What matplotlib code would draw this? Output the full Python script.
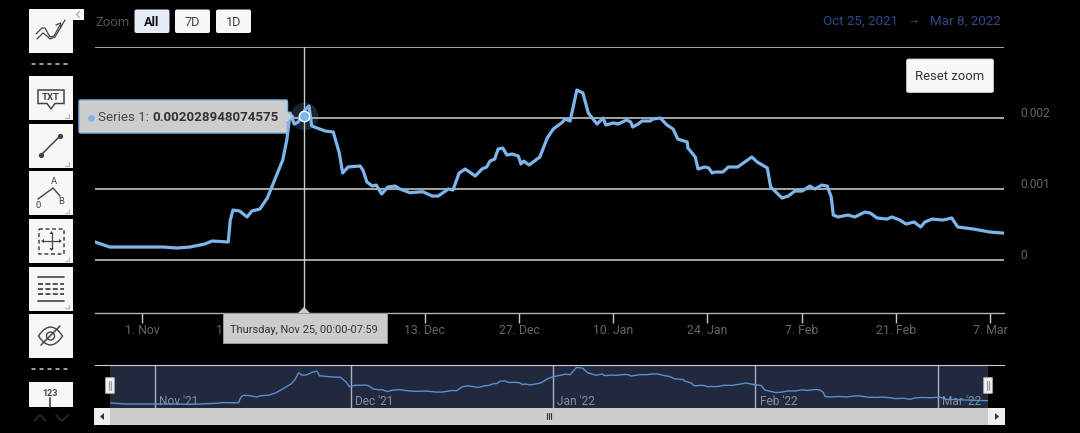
import matplotlib
matplotlib.use('Agg')
import matplotlib.pyplot as plt
import matplotlib.dates as mdates
import matplotlib.transforms as mtrans
from matplotlib.path import Path
from matplotlib.patches import Rectangle, FancyBboxPatch, Polygon, Circle, PathPatch
import pandas as pd

plt.rcParams['font.family'] = ['Roboto', 'DejaVu Sans']

START = pd.Timestamp('2021-10-25')

days = [0, 2.2, 10.1, 12.2, 14.1, 16.3, 17.4, 19.8, 20.1, 20.5, 21.5, 22.6, 23.3, 24.5, 25.6, 26.7, 27.9, 28.5,
        29.0, 29.6, 30.2, 31.2, 31.8, 32.2, 34.2, 35.4, 36.3, 36.8, 37.6, 39.4, 39.8, 40.4, 41.2, 41.8, 42.6, 43.5,
        44.6, 45.3, 46.8, 48.7, 50.1, 51.0, 52.5, 53.2, 54.1, 55.0, 56.5, 57.5, 58.2, 58.7, 59.4, 59.9, 60.6, 61.2,
        62.0, 62.9, 63.3, 63.7, 64.5, 66.1, 67.2, 68.1, 69.5, 69.8, 70.6, 71.6, 72.5, 73.3, 74.6, 75.5, 75.9, 77.0,
        77.7, 79.0, 79.6, 79.9, 80.7, 81.3, 82.5, 82.9, 84.0, 85.0, 85.9, 86.6, 88.0, 88.1, 89.2, 89.6, 90.6, 91.2,
        91.7, 92.1, 93.3, 94.1, 95.5, 97.6, 98.4, 99.9, 100.4, 102.1, 103.0, 104.0, 105.1, 106.2, 107.0, 108.0, 108.8,
        109.4, 109.7, 110.4, 111.9, 112.9, 114.4, 115.2, 116.2, 117.7, 118.4, 119.6, 120.5, 121.7, 122.7, 123.3, 124.4,
        126.0, 127.3, 128.2, 130.5, 133.0, 134.9]
values = [.254, .183, .183, .169, .183, .225, .268, .254, .563, .704, .690, .606, .690, .718, .873, 1.127, 1.408, 1.690,
          2.070, 1.915, 1.944, 2.113, 2.169, 1.887, 1.817, 1.803, 1.507, 1.225, 1.310, 1.324, 1.268, 1.099, 1.042, 1.056, .930, 1.028,
          1.042, 1.000, .948, .962, .901, .901, 1.000, .986, 1.225, 1.282, 1.183, 1.282, 1.310, 1.394, 1.423, 1.563, 1.577, 1.479,
          1.493, 1.465, 1.352, 1.394, 1.338, 1.451, 1.718, 1.845, 1.944, 1.986, 1.958, 2.394, 2.352, 2.070, 1.915, 2.000, 1.901, 1.930,
          1.915, 1.972, 1.944, 1.873, 1.915, 1.958, 1.958, 1.986, 2.000, 1.901, 1.845, 1.704, 1.662, 1.577, 1.451, 1.282, 1.310, 1.296,
          1.225, 1.239, 1.239, 1.310, 1.310, 1.451, 1.380, 1.296, 1.028, .873, .901, .972, .972, 1.042, 1.000, 1.056, 1.042,
          .887, .634, .606, .634, .606, .676, .662, .592, .577, .606, .563, .507, .535, .465, .535, .577,
          .563, .592, .465, .437, .394, .380]

tick_dates = ['2021-11-01', '2021-11-15', '2021-11-29', '2021-12-13', '2021-12-27', '2022-01-10',
              '2022-01-24', '2022-02-07', '2022-02-21', '2022-03-07']
tick_labels = ['1. Nov', '15. Nov', '29. Nov', '13. Dec', '27. Dec', '10. Jan', '24. Jan', '7. Feb', '21. Feb', '7. Mar']
y_ticks = [0, 0.001, 0.002, 0.003]
y_labels = ['0', '0.001', '0.002', '']
month_dates = ['2021-11-01', '2021-12-01', '2022-01-01', '2022-02-01', '2022-03-01']
month_labels = ["Nov '21", "Dec '21", "Jan '22", "Feb '22", "Mar '22"]
hover_date = '2021-11-25'
hover_value = 0.002028948074575

W, H = 1080, 433
BLUE = '#7cb5ec'
GREY = '#666666'
ICON = '#444444'

dates = START + pd.to_timedelta(days, unit='D')
series = [v / 1000 for v in values]


def px_axes(fig, left, top, right, bottom, **kw):
  return fig.add_axes([left / W, 1 - bottom / H, (right - left) / W, (bottom - top) / H], **kw)


fig = plt.figure(figsize=(W / 100, H / 100), dpi=100, facecolor='black')

# main chart
ax = px_axes(fig, 95, 47, 1004, 313, facecolor='black')
ax.plot(dates, series, color=BLUE, lw=2.3, solid_joinstyle='round', zorder=3)
ax.set_xlim(START, START + pd.Timedelta(days=135.07))
ax.set_ylim(-0.000746, 0.003)
for s in ['top', 'left', 'right']:
  ax.spines[s].set_visible(False)
ax.spines['bottom'].set_color('#b0b0b8')
ax.spines['bottom'].set_linewidth(1)
ax.set_yticks(y_ticks, y_labels, fontsize=8.6, color=GREY, va='bottom')
ax.yaxis.tick_right()
ax.tick_params(axis='y', length=0, pad=11.5)
drop = mtrans.ScaledTranslation(0, -2 / 100, fig.dpi_scale_trans)
for lab in ax.get_yticklabels():
  lab.set_transform(lab.get_transform() + drop)
ax.grid(axis='y', color='#d2d2d2', lw=1.1)
ax.set_axisbelow(True)
ax.set_xticks(pd.to_datetime(tick_dates), tick_labels, fontsize=8.8, color=GREY)
ax.tick_params(axis='x', length=7, width=1, color='#c8c8d0', pad=1)

hover = pd.Timestamp(hover_date)
ax.axvline(hover, color='#cccccc', lw=1, zorder=2)
ax.plot([hover], [hover_value], 'o', ms=20, color=BLUE, alpha=0.2, mew=0, zorder=2.5)
ax.plot([hover], [hover_value], 'o', ms=7.5, color=BLUE, mec='white', mew=1, zorder=5)

# navigator
nav = px_axes(fig, 95, 365, 1004, 408, facecolor='black')
nav.set_xlim(mdates.date2num(START) - 2.2, mdates.date2num(START) + 137.1)
nav.set_ylim(-0.00006, 0.00254)
span = nav.axvspan(mdates.date2num(START) + 0.1, mdates.date2num(START) + 134.6, color='#20293d', lw=0, zorder=1)
nav_line, = nav.plot(dates, series, color='#5b8fd0', lw=1, zorder=3)
nav_line.set_clip_path(span)
nav.set_xticks([])
nav.set_yticks([])
for s in ['left', 'right', 'bottom']:
  nav.spines[s].set_visible(False)
nav.spines['top'].set_color('#d0d0d0')
for d, lab in zip(month_dates, month_labels):
  nav.axvline(pd.Timestamp(d), color='#aab0bc', lw=1, zorder=2)
  nav.annotate(lab, (pd.Timestamp(d), 0), xycoords=('data', 'axes fraction'), xytext=(3, 2),
               textcoords='offset points', fontsize=8.6, color='#8a8f99', zorder=2)

# page furniture, drawn in pixel coordinates on a transparent overlay
ov = fig.add_axes([0, 0, 1, 1], facecolor='none', zorder=10)
ov.set_xlim(0, W)
ov.set_ylim(H, 0)
ov.axis('off')


def box(x0, y0, x1, y1, fc, ec='none', lw=0, r=0, z=2):
  if r:
    p = FancyBboxPatch((x0 + r, y0 + r), x1 - x0 - 2 * r, y1 - y0 - 2 * r, boxstyle=f'round,pad={r}', fc=fc, ec=ec, lw=lw, zorder=z)
  else:
    p = Rectangle((x0, y0), x1 - x0, y1 - y0, fc=fc, ec=ec, lw=lw, zorder=z)
  ov.add_patch(p)


def line(xs, ys, color=ICON, lw=1.2, z=3, **kw):
  ov.plot(xs, ys, color=color, lw=lw, zorder=z, solid_capstyle='round', **kw)


# zoom buttons and date range
ov.text(95, 22, 'Zoom', fontsize=9.4, color='#555555', va='center')
for x0, x1, lab, fc, weight, col in [(134.5, 169.5, 'All', '#e6ebf5', 'bold', '#111111'),
                                     (175, 210, '7D', '#f7f7f7', 'normal', '#444444'),
                                     (216, 251, '1D', '#f7f7f7', 'normal', '#444444')]:
  box(x0, 9.5, x1, 33, fc, r=2)
  ov.text((x0 + x1) / 2, 22, lab, fontsize=9.2, color=col, weight=weight, ha='center', va='center', zorder=3)
ov.text(823, 21.5, 'Oct 25, 2021', fontsize=9.6, color='#2f4a8c', va='center')
ov.text(914, 22.5, '→', fontsize=7, color='#444444', ha='center', va='center', family=['DejaVu Sans'])
ov.text(930, 21.5, 'Mar 8, 2022', fontsize=9.6, color='#2f4a8c', va='center')
box(906.5, 59, 993.5, 92.5, '#f7f7f7', ec='#cccccc', lw=0.6, r=2)
ov.text(950, 76.5, 'Reset zoom', fontsize=9.4, color='#333333', ha='center', va='center', zorder=3)

# toolbar buttons
for y0, y1 in [(9, 53), (76, 120), (124, 168), (171, 215), (219, 263), (267, 310.5), (314, 358)]:
  box(29, y0, 73, y1, '#f7f7f7')
  if y0 > 9 and y0 < 314:
    line([65, 68.5, 68.5], [y1 - 2.5, y1 - 2.5, y1 - 6], color='#bbbbbb', lw=1)
box(29, 382, 73, 407, '#f7f7f7')
box(73, 9, 84, 20, '#f7f7f7')
line([79.5, 76.5, 79.5], [11.5, 14.5, 17.5], color='#999999', lw=0.7)
for y in [64, 369]:
  for x in [31.5, 40, 48, 56, 63.5]:
    line([x, x + 3], [y, y], color='#cccccc', lw=1.1)

# indicators icon
line([36, 42, 45, 50, 54, 60], [34, 28, 28, 37, 36, 25], lw=0.9)
line([37, 43, 47, 50, 55, 65], [39, 33, 36, 39, 37, 20], lw=0.9)
line([56, 60.5, 61], [25, 23, 27], lw=0.9)
# text icon
ov.add_patch(Polygon([(38, 90), (64, 90), (64, 103.5), (55, 103.5), (51, 109), (47, 103.5), (38, 103.5)], fc='none', ec=ICON, lw=1.1, zorder=3))
ov.text(51, 97, 'TXT', fontsize=6.8, weight='bold', color=ICON, ha='center', va='center', zorder=3)
# line icon
line([41, 60], [155, 136], lw=1.1)
ov.plot([41, 60], [155, 136], 'o', ms=2.8, color=ICON, zorder=3)
# fibonacci-ish icon
line([38, 53, 60], [199, 188, 196], lw=1)
ov.text(53.5, 182, 'A', fontsize=6.8, color=ICON, ha='center', va='center', zorder=3)
ov.text(61.5, 202, 'B', fontsize=6.8, color=ICON, ha='center', va='center', zorder=3)
ov.text(38.5, 205, '0', fontsize=6.8, color=ICON, ha='center', va='center', zorder=3)
# move icon
ov.add_patch(Rectangle((39, 228.5), 25, 25, fc='none', ec=ICON, lw=1.1, ls=(0, (2.5, 1.8)), zorder=3))
line([51.5, 51.5], [233, 249], lw=0.9)
line([43, 60], [241, 241], lw=0.9)
ov.add_patch(Polygon([(49.5, 234), (53.5, 234), (51.5, 231)], fc=ICON, zorder=3))
ov.add_patch(Polygon([(49.5, 248), (53.5, 248), (51.5, 251)], fc=ICON, zorder=3))
ov.add_patch(Polygon([(44, 239), (44, 243), (41, 241)], fc=ICON, zorder=3))
ov.add_patch(Polygon([(59, 239), (59, 243), (62, 241)], fc=ICON, zorder=3))
# grid icon
line([38, 64], [277, 277], lw=1.2)
line([38, 64], [300.5, 300.5], lw=1.2)
for y in [284, 289, 294]:
  ov.plot([38, 64], [y, y], color='#555555', lw=1.4, ls=(0, (2.6, 1.2)), zorder=3)
# eye icon, a lens made of two curves
eye = Path([(38.5, 336), (50.5, 318), (62.5, 336), (50.5, 354), (38.5, 336)],
           [Path.MOVETO, Path.CURVE3, Path.CURVE3, Path.CURVE3, Path.CURVE3])
ov.add_patch(PathPatch(eye, fc='none', ec=ICON, lw=1, zorder=3))
ov.add_patch(Circle((50.5, 336), 4, fc='none', ec=ICON, lw=1, zorder=3))
line([41, 60], [345, 326], lw=1.1)
# 123 icon
ov.text(50, 393, '123', fontsize=6.5, weight='bold', color=ICON, ha='center', va='center', zorder=3)
line([50, 50], [398, 407], lw=1.2)
# toolbar scroll arrows
line([34, 40, 46], [421, 415, 421], color='#333333', lw=1)
line([56, 62, 68], [415, 421, 415], color='#333333', lw=1)

# hover tooltips
box(79, 100, 287.5, 133, '#cdcdcd', ec=BLUE, lw=1, r=1.5, z=5)
ov.add_patch(Polygon([(287, 111), (294, 116.5), (287, 122)], fc='#cdcdcd', ec=BLUE, lw=0.8, zorder=5))
box(286, 111.8, 288, 121.2, '#cdcdcd', z=5)
ov.plot([91], [118], 'o', ms=4.8, color=BLUE, mew=0, zorder=6)
ov.text(98, 117.5, 'Series 1: ', fontsize=9.6, color='#444444', va='center', zorder=6)
ov.text(152, 117.5, f'{hover_value:.15f}', fontsize=9.6, weight='bold', color='#333333', va='center', zorder=6)

box(222.5, 313, 387, 343, '#cccccc', ec='#999999', lw=0.7, z=5)
ov.add_patch(Polygon([(298, 313), (304, 307), (310, 313)], fc='#cccccc', ec='none', zorder=5))
ov.text(304, 330, 'Thursday, Nov 25, 00:00-07:59', fontsize=7.9, color='#333333', ha='center', va='center', zorder=6)

# scrollbar and navigator handles
box(94, 408, 1005, 424.5, '#cdcdcd')
box(94, 408, 110, 424.5, '#efefef')
box(988, 408, 1005, 424.5, '#efefef')
ov.add_patch(Polygon([(104, 413), (104, 420), (100, 416.5)], fc='#333333', zorder=3))
ov.add_patch(Polygon([(995, 413), (995, 420), (999, 416.5)], fc='#333333', zorder=3))
for x in [546.5, 548.5, 550.5]:
  line([x, x], [413, 418.5], color='#333333', lw=0.8)
for cx in [110, 988]:
  box(cx - 4.5, 377.5, cx + 4.5, 393.5, '#f2f2f2', ec='#999999', lw=0.8, r=1, z=4)
  line([cx - 1.2, cx - 1.2], [381, 390], color='#999999', lw=0.9, z=5)
  line([cx + 1.2, cx + 1.2], [381, 390], color='#999999', lw=0.9, z=5)

fig.savefig('out.png', dpi=100, facecolor='black')
plt.close(fig)
